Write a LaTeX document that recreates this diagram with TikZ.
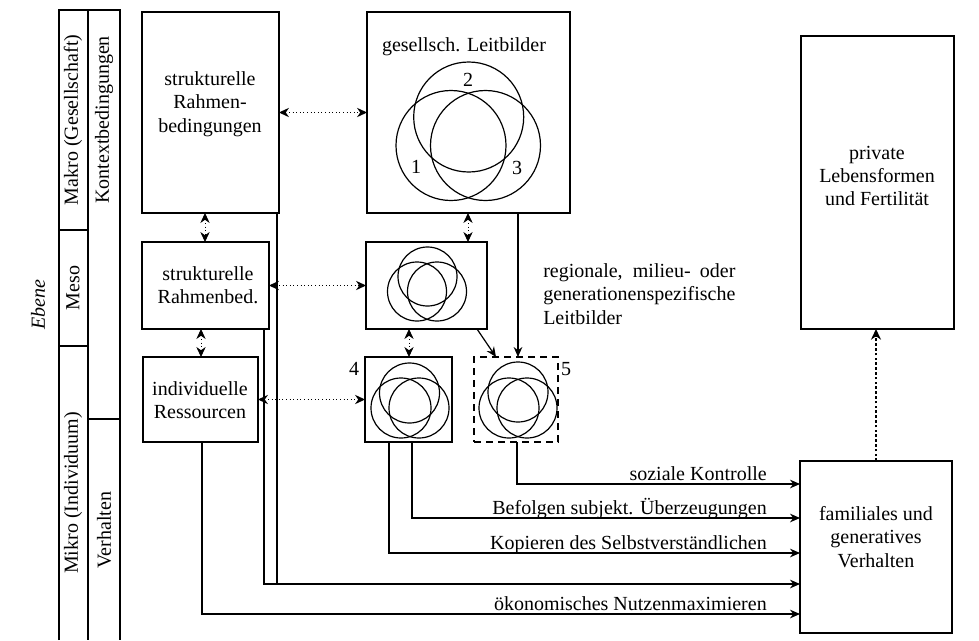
\documentclass[tikz,border=0pt]{standalone}
\usepackage{fontspec}
\setmainfont{Liberation Serif}
\usetikzlibrary{arrows.meta}
\tikzset{
  box/.style 2 args={draw, line width=0.9pt, anchor=north west, inner sep=0pt, outer sep=0pt,
     minimum width=#1*0.75pt, minimum height=#2*0.75pt},
  txt/.style={align=center, inner sep=0pt},
  dd/.style={line width=0.7pt, dotted, {Stealth[length=7.5pt,width=7pt]}-{Stealth[length=7.5pt,width=7pt]}},
  arr/.style={line width=0.9pt, -{Stealth[length=7.5pt,width=6.5pt]}},
  plain/.style={line width=0.9pt},
  axis/.style={line width=1.1pt},
  thickdot/.style={line width=2pt, dash pattern=on 2pt off 1.6pt, -{Stealth[length=8pt,width=7.5pt]}},
  venn/.style={line width=0.9pt},
  lab/.style={anchor=base east, inner sep=0pt},
}
\begin{document}
\begin{tikzpicture}[x=0.75pt,y=-0.75pt,font=\fontsize{15}{17.6}\selectfont]
\useasboundingbox (0,0) rectangle (979,640);
% left axis
\draw[axis] (59,640) -- (59,10) -- (120,10) -- (120,640);
\draw[axis] (88,10) -- (88,640);
\draw[axis] (59,230) -- (88,230);
\draw[axis] (59,346) -- (88,346);
\draw[axis] (88,419) -- (120,419);
\node[txt, rotate=90] (makro) at (73,120) {Makro (Gesellschaft)};
\node[txt, rotate=90] (meso) at (73,288) {Meso};
\node[txt, rotate=90] (mikro) at (73,493) {Mikro (Individuum)};
\node[txt, rotate=90] (kontext) at (104,120) {Kontextbedingungen};
\node[txt, rotate=90] (verh) at (104,530) {Verhalten};
\node[txt, rotate=90] (ebene) at (38,305) {\itshape Ebene};
% boxes
\node[box={137}{201}] (sr) at (142,12) {};
\node[box={203}{201}] (gl) at (367,12) {};
\node[box={127}{87}] (srb) at (142,242) {};
\node[box={121}{87}] (mv) at (366,242) {};
\node[box={115}{85}] (ir) at (143,357) {};
\node[box={87}{85}] (b4) at (365,357) {};
\node[box={84}{85}, dash pattern=on 5.5pt off 3.5pt] (b5) at (474,357) {};
\node[box={153}{293}] (pl) at (801,36) {};
\node[box={152}{172}] (fv) at (800,461) {};
% box texts
\node[txt] (srt) at (210,104) {strukturelle\\Rahmen-\\bedingungen};
\node[txt] (glt) at (464,47) {gesellsch. Leitbilder};
\node[txt] (srbt) at (208,285) {strukturelle\\Rahmenbed.};
\node[txt] (irt) at (200,400) {individuelle\\Ressourcen};
\node[txt] (plt) at (877,176) {private\\Lebensformen\\und Fertilität};
\node[txt] (fvt) at (876,537) {familiales und\\generatives\\Verhalten};
% venn diagrams
\draw[venn] (468.7,117) circle[radius=55];
\draw[venn] (451,145.5) circle[radius=55];
\draw[venn] (485.5,145.5) circle[radius=55];
\node[txt] (n2) at (468,80) {2};
\node[txt] (n1) at (416,167) {1};
\node[txt] (n3) at (517,168) {3};
\draw[venn] (427.5,276.5) circle[radius=29.5];
\draw[venn] (417,291.5) circle[radius=29.5];
\draw[venn] (437,291.5) circle[radius=29.5];
\draw[venn] (409.5,393) circle[radius=30];
\draw[venn] (401,408) circle[radius=30];
\draw[venn] (419,408) circle[radius=30];
\draw[venn] (518,392) circle[radius=30];
\draw[venn] (509,408) circle[radius=30];
\draw[venn] (527,408) circle[radius=30];
\node[txt] (n4) at (354,369) {4};
\node[txt] (n5) at (566,369) {5};
% regional text
\node[align=left, inner sep=0pt, anchor=west] (reg) at (543,294)
  {\setbox0\hbox{generationenspezifische}\makebox[\wd0][s]{regionale, milieu- oder}\\generationenspezifische\\Leitbilder};
% dotted double arrows
\draw[dd] (sr.east) -- (gl.west);
\draw[dd] (sr.south -| 205,0) -- (srb.north -| 205,0);
\draw[dd] (gl.south -| 468,0) -- (mv.north -| 468,0);
\draw[dd] (srb.east) -- (mv.west);
\draw[dd] (srb.south -| 201,0) -- (ir.north -| 201,0);
\draw[dd] (mv.south -| 409,0) -- (b4.north -| 409,0);
\draw[dd] (ir.east) -- (b4.west);
% solid arrows to box 5
\draw[arr] (gl.south -| 518,0) -- (b5.north -| 518,0);
\draw[arr] (mv.south -| 477,0) -- (b5.north -| 496,0);
% arrows into behaviour box
\coordinate (j) at (277,584);
\draw[arr] (b5.south -| 517,0) |- (fv.west |- 0,484);
\draw[arr] (b4.south -| 412,0) |- (fv.west |- 0,518);
\draw[arr] (b4.south -| 389,0) |- (fv.west |- 0,553);
\draw[arr] (srb.south -| 264,0) |- (fv.west |- 0,584);
\draw[plain] (sr.south -| 277,0) -- (j);
\draw[arr] (ir.south -| 202,0) |- (fv.west |- 0,614);
\node[lab] (l1) at (767,480) {soziale Kontrolle};
\node[lab] (l2) at (767,514) {Befolgen subjekt. Überzeugungen};
\node[lab] (l3) at (767,549) {Kopieren des Selbstverständlichen};
\node[lab] (l5) at (767,610) {ökonomisches Nutzenmaximieren};
% dotted arrow up
\draw[thickdot] (fv.north) -- (fv.north |- pl.south);
\end{tikzpicture}
\end{document}
